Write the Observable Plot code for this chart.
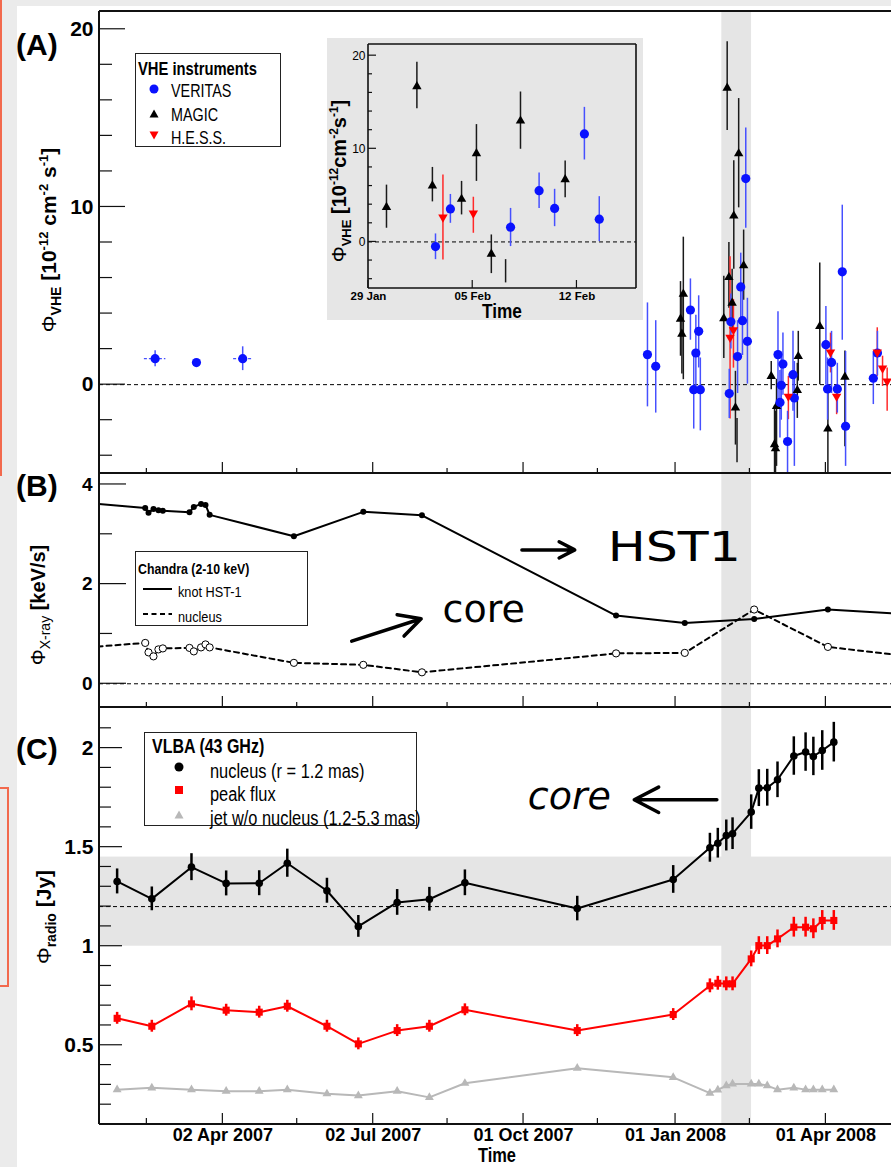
<!DOCTYPE html>
<html><head><meta charset="utf-8">
<script src="https://cdn.jsdelivr.net/npm/d3@7"></script>
<script src="https://cdn.jsdelivr.net/npm/@observablehq/plot@0.6"></script>
<style>
html,body{margin:0;padding:0;background:#ebebeb;overflow:hidden}
#page{position:relative;width:891px;height:1167px;overflow:hidden;font-family:"Liberation Sans",Arial,sans-serif;color:#000}
#sheet{position:absolute;left:17px;top:6px;width:874px;height:1161px;background:#fff}
.t{position:absolute;white-space:nowrap;line-height:1;transform:translateY(-50%)}
.t.narrow{transform:translateY(-50%) scaleX(0.82);transform-origin:0 50%}
.legend{position:absolute;border:1.5px solid #222;background:#fff;box-sizing:border-box;overflow:visible}
.ylab{position:absolute;white-space:nowrap;line-height:1;text-align:center;transform:translate(-50%,-50%) rotate(-90deg)}
.ylab sub,.ylab sup{line-height:0}
.red{position:absolute;border:2px solid #f2694d}
</style></head><body><div id="page"><div id="sheet"></div>
<div class="red" style="left:-3px;top:-4px;width:3px;height:476px;border-left:none"></div>
<div class="red" style="left:-5px;top:787px;width:10px;height:196px"></div>
</div>
<script>
// ------------------------------------------------------------------ DATA
const xDomain = ["2007-01-17T08:00", "2008-05-10T17:00"];
const flareWindow = [["2008-01-29", "2008-02-16"]];
const xMajorTicks = ["2007-04-02", "2007-07-02", "2007-10-01", "2008-01-01", "2008-04-01"];
const xTickLabels = ["02 Apr 2007", "02 Jul 2007", "01 Oct 2007", "01 Jan 2008", "01 Apr 2008"];
const xMinorTicks = ["2007-02-15", "2007-05-17", "2007-08-16", "2007-11-15", "2008-02-15"];

// Panel A: VHE flux [1e-12 cm^-2 s^-1]  (date, flux, lower, upper, x-error days)
const veritas = [
  ["2007-02-20", 1.46, 1.01, 1.91, 6.5],
  ["2007-03-17", 1.24, 1.10, 1.38],
  ["2007-04-14", 1.46, 0.79, 2.13, 5.5],
  ["2007-12-15", 1.69, -1.25, 4.6],
  ["2007-12-20", 1.03, -1.6, 3.6],
  ["2008-01-10", 4.2, 2.5, 5.95],
  ["2008-01-12", -0.28, -2.5, 1.87],
  ["2008-01-13T07:00", 1.78, -0.1, 3.9],
  ["2008-01-15", 3.0, 0.94, 5.0],
  ["2008-01-16", -0.28, -2.6, 1.5],
  ["2008-02-02T12:00", -0.5, -1.9, 0.86],
  ["2008-02-03T12:00", 3.54, 2.0, 5.1],
  ["2008-02-07T13:00", 1.58, -0.5, 3.6],
  ["2008-02-09T11:00", 5.5, 3.6, 7.4],
  ["2008-02-10T12:00", 3.6, 1.64, 5.65],
  ["2008-02-12T12:00", 11.6, 8.8, 14.45],
  ["2008-02-13T12:00", 2.44, 0.03, 4.86],
  ["2008-03-03", 1.69, -0.84, 4.1],
  ["2008-03-04T05:00", -1.0, -3.0, 0.8],
  ["2008-03-05", -0.04, -2.0, 1.6],
  ["2008-03-06", 1.16, -0.6, 2.9],
  ["2008-03-08T19:00", -3.2, -5.5, -1.5],
  ["2008-03-12T02:00", 0.56, -1.5, 3.0],
  ["2008-03-12T22:00", -0.75, -4.6, 1.3],
  ["2008-04-01", 2.25, 0.0, 4.4],
  ["2008-04-02", -0.24, -2.0, 1.5],
  ["2008-04-04T10:00", 1.25, -0.5, 3.0],
  ["2008-04-07T22:00", -0.24, -1.6, 1.2],
  ["2008-04-10T22:00", 6.35, 2.5, 10.1],
  ["2008-04-12T22:00", -2.34, -4.6, 1.87],
  ["2008-04-29T17:00", 0.36, -1.12, 1.87],
  ["2008-05-02T05:00", 1.78, 0.5, 3.0]
];
const magic = [
  ["2008-01-04T00:00", 3.7, 1.6, 5.8],
  ["2008-01-04T20:00", 2.85, 0.6, 5.1],
  ["2008-01-05T17:00", 5.1, 0.28, 8.3],
  ["2008-01-30T05:00", 3.72, 1.47, 6.1],
  ["2008-02-01T06:00", 16.7, 14.3, 19.3],
  ["2008-02-02T07:00", 6.04, 4.3, 8.0],
  ["2008-02-04T06:00", 4.6, 2.9, 6.5],
  ["2008-02-05T06:00", 9.5, 6.5, 12.6],
  ["2008-02-06T06:00", -1.3, -3.4, 0.75],
  ["2008-02-07T05:00", null, -4.4, -1.9],
  ["2008-02-08T05:00", 13.0, 9.95, 16.1],
  ["2008-02-11T05:00", 6.7, 4.75, 8.7],
  ["2008-02-27T22:00", 0.47, -0.28, 1.3],
  ["2008-02-29T22:00", -3.37, -6.0, -1.2],
  ["2008-03-01T12:00", -3.6, -6.0, -1.5],
  ["2008-03-02T03:00", -1.22, -4.6, 0.3],
  ["2008-03-14T17:00", -0.32, -1.9, 1.2],
  ["2008-03-15T07:00", 1.59, 0.2, 3.0],
  ["2008-03-28T07:00", 3.28, 0.0, 6.84],
  ["2008-04-02T05:00", -2.49, -6.0, -0.3],
  ["2008-04-12T12:00", 0.43, -3.5, 1.9]
];
const hess = [
  ["2008-02-03T00:00", 2.65, -1.93, 7.2],
  ["2008-02-05T01:00", 3.08, 0.93, 4.8],
  ["2008-03-09T07:00", -0.66, -1.97, 0.47],
  ["2008-04-03T19:00", 1.82, 0.66, 2.9],
  ["2008-04-07T12:00", -0.66, -1.69, 0.0],
  ["2008-05-02T02:00", 1.82, 0.47, 3.2],
  ["2008-05-05T07:00", 0.92, -0.1, 1.6],
  ["2008-05-08T02:00", 0.19, -1.5, 0.94]
];
const vheYMajor = [0, 10, 20];
const vheYMinor = [-4, -2, 2, 4, 6, 8, 12, 14, 16, 18];

// Inset
const insetDomain = ["2008-01-29", "2008-02-16"];
const insetTicks = ["2008-01-29", "2008-02-05", "2008-02-12"];
const insetTickLabels = ["29 Jan", "05 Feb", "12 Feb"];

// Panel B: Chandra 2-10 keV rate [keV/s]
const chandraDates = ["2006-12-20", "2007-02-14", "2007-02-16", "2007-02-19", "2007-02-22", "2007-02-24T16:00",
  "2007-03-12T19:00", "2007-03-15T10:00", "2007-03-19T19:00", "2007-03-22T12:00", "2007-03-25", "2007-05-15",
  "2007-06-26", "2007-07-31T12:00", "2007-11-26", "2008-01-06T14:00", "2008-02-17T14:00", "2008-04-02T05:00", "2008-06-01"];
const hst1Rate = [3.69, 3.53, 3.43, 3.51, 3.48, 3.47, 3.44, 3.55, 3.61, 3.59, 3.39, 2.96, 3.45, 3.38, 1.37, 1.22, 1.30, 1.49, 1.37];
const nucleusRate = [0.68, 0.82, 0.63, 0.55, 0.69, 0.71, 0.72, 0.65, 0.73, 0.79, 0.73, 0.42, 0.38, 0.23, 0.61, 0.62, 1.49, 0.74, 0.51];
const xrayYMajor = [0, 2, 4];
const xrayYMinor = [1, 3];

// Panel C: VLBA 43 GHz [Jy]
const vlbaDates = ["2007-01-28", "2007-02-18", "2007-03-14", "2007-04-04", "2007-04-24", "2007-05-11", "2007-06-04",
  "2007-06-23", "2007-07-16T12:00", "2007-08-05", "2007-08-26T12:00", "2007-11-02T12:00", "2007-12-30T14:00",
  "2008-01-21T19:00", "2008-01-26T14:00", "2008-01-31T17:00", "2008-02-04T12:00", "2008-02-15T19:00",
  "2008-02-20T10:00", "2008-02-25T12:00", "2008-03-02T17:00", "2008-03-12T14:00", "2008-03-19T17:00",
  "2008-03-24T10:00", "2008-03-29T19:00", "2008-04-05T19:00"];
const radioNucleus = [1.327, 1.239, 1.399, 1.317, 1.318, 1.419, 1.28, 1.10, 1.221, 1.237, 1.32, 1.19, 1.337,
  1.497, 1.52, 1.559, 1.568, 1.677, 1.798, 1.80, 1.84, 1.96, 1.98, 1.958, 1.988, 2.03];
const radioNucleusErr = [0.063, 0.06, 0.068, 0.063, 0.063, 0.071, 0.063, 0.055, 0.065, 0.06, 0.065, 0.062, 0.07,
  0.073, 0.075, 0.078, 0.08, 0.087, 0.093, 0.093, 0.09, 0.097, 0.097, 0.097, 0.1, 0.1];
const radioPeak = [0.636, 0.596, 0.709, 0.677, 0.667, 0.697, 0.596, 0.507, 0.574, 0.596, 0.679, 0.574, 0.655,
  0.80, 0.813, 0.81, 0.81, 0.936, 1.003, 1.003, 1.037, 1.096, 1.096, 1.088, 1.13, 1.13];
const radioPeakErr = [0.03, 0.03, 0.035, 0.03, 0.03, 0.03, 0.03, 0.03, 0.03, 0.03, 0.03, 0.03, 0.03,
  0.035, 0.035, 0.035, 0.035, 0.04, 0.045, 0.045, 0.045, 0.05, 0.05, 0.05, 0.05, 0.05];
const radioJet = [0.276, 0.285, 0.276, 0.268, 0.268, 0.276, 0.255, 0.246, 0.268, 0.237, 0.308, 0.384, 0.338,
  0.258, 0.275, 0.296, 0.305, 0.305, 0.305, 0.296, 0.276, 0.285, 0.276, 0.276, 0.276, 0.276];
const radioBand = [[1.0, 1.45]];
const radioRef = [1.2];
const radioYMajor = [0.5, 1, 1.5, 2];
const radioYMinor = [0.2, 0.3, 0.4, 0.6, 0.7, 0.8, 0.9, 1.1, 1.2, 1.3, 1.4, 1.6, 1.7, 1.8, 1.9, 2.1];

// Hand-drawn annotations (data coordinates)
const notesB = [["HST1", "2007-11-21", 2.72, 0], ["core", "2007-08-13", 1.48, 1]];
const arrowsB = [["2007-09-30", 2.687, "2007-11-01", 2.687], ["2007-06-19", 0.855, "2007-07-31", 1.305]];
const notesC = [["core", "2007-10-03T14:00", 1.756, 1]];
const arrowsC = [["2008-01-26", 1.739, "2007-12-07", 1.739]];

// ------------------------------------------------------------------ HELPERS
const T = s => new Date(s.length === 10 ? s + "T00:00Z" : s + "Z");
const pts = arr => arr.map(([d, v, lo, hi, xe]) => ({date: T(d), v, lo, hi, xe}));
const xDom = xDomain.map(T);
const band = flareWindow.map(([a, b]) => ({start: T(a), end: T(b)}));
const majT = xMajorTicks.map(T), minT = xMinorTicks.map(T);
const labelMap = new Map(majT.map((d, i) => [+d, xTickLabels[i]]));
const insT = insetTicks.map(T);
const insetLabelMap = new Map(insT.map((d, i) => [+d, insetTickLabels[i]]));
const V = pts(veritas), M = pts(magic), H = pts(hess);
const BLUE = "#0a12ff", BLUE_BAR = "#4650ff", RED = "#ff0000", BANDC = "#e5e5e5";
const FONT = "Liberation Sans, Arial, sans-serif";
const page = document.getElementById("page");

function axesFrame(cfg) {
  return (index, {x, y}, values, dim) => {
    const L = dim.marginLeft, R = dim.width - dim.marginRight, Tp = dim.marginTop, B = dim.height - dim.marginBottom;
    const g = d3.create("svg:g").attr("stroke", "#111").attr("fill", "none");
    const seg = (x1, y1, x2, y2, w) => g.append("line").attr("x1", x1).attr("y1", y1).attr("x2", x2).attr("y2", y2).attr("stroke-width", w);
    for (const v of cfg.yMajor) seg(L, y(v), L + cfg.yMajorLen, y(v), 1.2);
    for (const v of cfg.yMinor) seg(L, y(v), L + cfg.yMinorLen, y(v), 1.2);
    for (const d of cfg.xMajor) seg(x(d), B, x(d), B - cfg.xMajorLen, 1.2);
    for (const d of (cfg.xMinor || [])) seg(x(d), B, x(d), B - cfg.xMinorLen, 1.2);
    seg(L, Tp, L, B, cfg.fw);
    seg(L, Tp, R, Tp, cfg.fw);
    seg(L, B, R, B, cfg.fw);
    if (cfg.right) seg(R, Tp, R, B, cfg.fw);
    return g.node();
  };
}
function place(svg, left, top) {
  svg.style.position = "absolute";
  svg.style.left = left + "px";
  svg.style.top = top + "px";
  page.appendChild(svg);
}
function text(html, x, y, style, cls) {
  const d = document.createElement("div");
  d.className = "t " + (cls || "");
  d.setAttribute("style", `left:${x}px;top:${y}px;` + (style || ""));
  d.innerHTML = html;
  page.appendChild(d);
  return d;
}
function ylab(html, cx, cy, style) {
  const d = document.createElement("div");
  d.className = "ylab";
  d.setAttribute("style", `left:${cx}px;top:${cy}px;` + (style || ""));
  d.innerHTML = html;
  page.appendChild(d);
}
function vheMarks() {
  return [
    Plot.ruleY([0], {stroke: "#000", strokeWidth: 1, strokeDasharray: "4,3"}),
    Plot.ruleX(M, {x: "date", y1: "lo", y2: "hi", stroke: "#1a1a1a", strokeWidth: 1.5, clip: true}),
    Plot.ruleX(H, {x: "date", y1: "lo", y2: "hi", stroke: "#ff2a2a", strokeWidth: 1.5, clip: true}),
    Plot.ruleX(V, {x: "date", y1: "lo", y2: "hi", stroke: BLUE_BAR, strokeWidth: 1.5, clip: true}),
    Plot.ruleY(V.filter(d => d.xe), {y: "v", x1: d => d3.utcHour.offset(d.date, -24 * d.xe), x2: d => d3.utcHour.offset(d.date, 24 * d.xe), stroke: BLUE_BAR, strokeWidth: 1.3, strokeDasharray: "3,2", clip: true}),
    Plot.dot(M, {x: "date", y: "v", symbol: "triangle", r: 3.5, fill: "#000", stroke: "none", clip: true}),
    Plot.dot(V, {x: "date", y: "v", symbol: "circle", r: 4.6, fill: BLUE, stroke: "none", clip: true}),
    Plot.dot(H, {x: "date", y: "v", symbol: "triangle", rotate: 180, r: 3.5, fill: RED, stroke: "none", clip: true})
  ];
}
const baseStyle = {fontFamily: FONT, background: "transparent", overflow: "visible", color: "#000"};

// ------------------------------------------------------------------ PANEL A
const plotA = Plot.plot({
  width: 891, height: 473, marginLeft: 99, marginRight: 0, marginTop: 11, marginBottom: 0,
  style: baseStyle,
  x: {type: "utc", domain: xDom, axis: null},
  y: {domain: [-5, 21]},
  marks: [
    Plot.rect(band, {x1: "start", x2: "end", fill: BANDC}),
    ...vheMarks(),
    Plot.axisY(vheYMajor, {tickSize: 0, tickPadding: 6, fontSize: 21, fontWeight: "bold", label: null, tickFormat: d => String(d)}),
    axesFrame({yMajor: vheYMajor, yMinor: vheYMinor, yMajorLen: 26, yMinorLen: 13, xMajor: majT, xMinor: minT, xMajorLen: 11, xMinorLen: 5, fw: 2})
  ]
});
place(plotA, 0, 0);

// ------------------------------------------------------------------ INSET
const insetEl = Plot.plot({
  width: 316, height: 282, marginLeft: 41, marginRight: 7, marginTop: 6, marginBottom: 32,
  style: {...baseStyle, background: "#e6e6e6"},
  x: {type: "utc", domain: insetDomain.map(T)},
  y: {domain: [-5, 21.2]},
  marks: [
    ...vheMarks(),
    Plot.axisY(vheYMajor, {tickSize: 0, tickPadding: 3, fontSize: 12, label: null, tickFormat: d => String(d)}),
    Plot.axisX(insT, {tickSize: 0, tickPadding: 3, fontSize: 11.5, fontWeight: "bold", label: null, tickFormat: d => insetLabelMap.get(+d)}),
    axesFrame({yMajor: vheYMajor, yMinor: vheYMinor, yMajorLen: 8, yMinorLen: 4, xMajor: insT, xMajorLen: 8, fw: 1.6, right: true})
  ]
});
place(insetEl, 327, 38);

// ------------------------------------------------------------------ PANEL B
const cD = chandraDates.map(T);
const hstPts = cD.map((d, i) => ({date: d, v: hst1Rate[i]}));
const nucPts = cD.map((d, i) => ({date: d, v: nucleusRate[i]}));
const plotB = Plot.plot({
  width: 891, height: 234, marginLeft: 99, marginRight: 0, marginTop: 0, marginBottom: 0,
  style: baseStyle,
  x: {type: "utc", domain: xDom, axis: null},
  y: {domain: [-0.476, 4.22]},
  marks: [
    Plot.rect(band, {x1: "start", x2: "end", fill: BANDC}),
    Plot.ruleY([0], {stroke: "#000", strokeWidth: 1, strokeDasharray: "4,3"}),
    Plot.line(hstPts, {x: "date", y: "v", stroke: "#000", strokeWidth: 2, clip: true}),
    Plot.line(nucPts, {x: "date", y: "v", stroke: "#000", strokeWidth: 2, strokeDasharray: "5,4", clip: true}),
    Plot.dot(hstPts, {x: "date", y: "v", r: 3, fill: "#000", stroke: "none", clip: true}),
    Plot.dot(nucPts, {x: "date", y: "v", r: 3.6, fill: "#fff", stroke: "#000", strokeWidth: 1, clip: true}),
    Plot.arrow(arrowsB, {x1: d => T(d[0]), y1: d => d[1], x2: d => T(d[2]), y2: d => d[3], stroke: "#000", strokeWidth: 3.5, headLength: 16, headAngle: 55}),
    Plot.text(notesB, {x: d => T(d[1]), y: d => d[2], text: d => d[0], textAnchor: "start", lineAnchor: "middle",
      fontSize: d => d[3] ? 38 : 40, fontStyle: d => d[3] ? "italic" : "normal", fontFamily: "DejaVu Sans, sans-serif", fill: "#000"}),
    Plot.axisY(xrayYMajor, {tickSize: 0, tickPadding: 7, fontSize: 19, fontWeight: "bold", label: null, tickFormat: d => String(d)}),
    axesFrame({yMajor: xrayYMajor, yMinor: xrayYMinor, yMajorLen: 27, yMinorLen: 13, xMajor: majT, xMinor: minT, xMajorLen: 11, xMinorLen: 5, fw: 2})
  ]
});
d3.select(plotB).selectAll("text").filter(function () { return this.textContent === "HST1"; })
  .attr("textLength", 133).attr("lengthAdjust", "spacingAndGlyphs");
place(plotB, 0, 473);

// ------------------------------------------------------------------ PANEL C
const vD = vlbaDates.map(T);
const nucR = vD.map((d, i) => ({date: d, v: radioNucleus[i], e: radioNucleusErr[i]}));
const peakR = vD.map((d, i) => ({date: d, v: radioPeak[i], e: radioPeakErr[i]}));
const jetR = vD.map((d, i) => ({date: d, v: radioJet[i]}));
const plotC = Plot.plot({
  width: 891, height: 460, marginLeft: 99, marginRight: 0, marginTop: 0, marginBottom: 43,
  style: baseStyle,
  x: {type: "utc", domain: xDom},
  y: {domain: [0.1, 2.205]},
  marks: [
    Plot.rect(band, {x1: "start", x2: "end", fill: BANDC}),
    Plot.rect(radioBand, {y1: d => d[0], y2: d => d[1], fill: BANDC}),
    Plot.ruleY(radioRef, {stroke: "#000", strokeWidth: 1, strokeDasharray: "4,3"}),
    Plot.line(jetR, {x: "date", y: "v", stroke: "#b8b8b8", strokeWidth: 2}),
    Plot.dot(jetR, {x: "date", y: "v", symbol: "triangle", r: 3.3, fill: "#b8b8b8", stroke: "none"}),
    Plot.line(peakR, {x: "date", y: "v", stroke: RED, strokeWidth: 2}),
    Plot.ruleX(peakR, {x: "date", y1: d => d.v - d.e, y2: d => d.v + d.e, stroke: RED, strokeWidth: 2.5}),
    Plot.dot(peakR, {x: "date", y: "v", symbol: "square", r: 4, fill: RED, stroke: "none"}),
    Plot.line(nucR, {x: "date", y: "v", stroke: "#000", strokeWidth: 2}),
    Plot.ruleX(nucR, {x: "date", y1: d => d.v - d.e, y2: d => d.v + d.e, stroke: "#000", strokeWidth: 2.5}),
    Plot.dot(nucR, {x: "date", y: "v", r: 3.8, fill: "#000", stroke: "none"}),
    Plot.arrow(arrowsC, {x1: d => T(d[0]), y1: d => d[1], x2: d => T(d[2]), y2: d => d[3], stroke: "#000", strokeWidth: 3.5, headLength: 16, headAngle: 55}),
    Plot.text(notesC, {x: d => T(d[1]), y: d => d[2], text: d => d[0], textAnchor: "start", lineAnchor: "middle",
      fontSize: 38, fontStyle: "italic", fontFamily: "DejaVu Sans, sans-serif", fill: "#000"}),
    Plot.axisY(radioYMajor, {tickSize: 0, tickPadding: 6, fontSize: 21, fontWeight: "bold", label: null, tickFormat: d => String(d)}),
    Plot.axisX(majT, {tickSize: 0, tickPadding: 4, fontSize: 18, fontWeight: "bold", label: null, tickFormat: d => labelMap.get(+d)}),
    axesFrame({yMajor: radioYMajor, yMinor: radioYMinor, yMajorLen: 23, yMinorLen: 12, xMajor: majT, xMinor: minT, xMajorLen: 11, xMinorLen: 6, fw: 2})
  ]
});
place(plotC, 0, 707);

// ------------------------------------------------------------------ TEXT, LEGENDS
text("(A)", 16, 45, "font-size:30px;font-weight:bold");
text("(B)", 16, 486, "font-size:30px;font-weight:bold");
text("(C)", 16, 749, "font-size:30px;font-weight:bold");
ylab('Φ<sub style="font-size:14px;font-weight:bold">VHE</sub> <b>[10<sup style="font-size:13px">-12</sup> cm<sup style="font-size:13px">-2</sup> s<sup style="font-size:13px">-1</sup>]</b>', 48, 240, "font-size:21px");
ylab('Φ<sub style="font-size:14px">X-ray</sub> <b>[keV/s]</b>', 38, 605, "font-size:20px");
ylab('Φ<sub style="font-size:14px;font-weight:bold">radio</sub> <b>[Jy]</b>', 43, 917, "font-size:21px");
ylab('Φ<sub style="font-size:13px;font-weight:bold">VHE</sub> <b>[10<sup style="font-size:12px">-12</sup>cm<sup style="font-size:12px">-2</sup>s<sup style="font-size:12px">-1</sup>]</b>', 339, 181, "font-size:20px");
text("Time", 502 - 20, 310, "font-size:21px;font-weight:bold", "narrow");
text("Time", 498 - 20, 1155, "font-size:20px;font-weight:bold", "narrow");

function legend(x, y, w, h) {
  const d = document.createElement("div");
  d.className = "legend";
  d.setAttribute("style", `left:${x}px;top:${y}px;width:${w}px;height:${h}px`);
  page.appendChild(d);
}
function sym(svgInner, x, y, w, h) {
  const s = d3.create("svg").attr("width", w).attr("height", h)
    .style("position", "absolute").style("left", (x - w / 2) + "px").style("top", (y - h / 2) + "px").style("overflow", "visible");
  s.html(svgInner);
  page.appendChild(s.node());
}
// legend A
legend(135, 53, 146, 94);
text("VHE instruments", 138, 68.5, "font-size:18px;font-weight:bold", "narrow");
sym('<circle cx="5" cy="5" r="4.5" fill="' + BLUE + '"/>', 154, 89, 10, 10);
text("VERITAS", 171, 92, "font-size:17.5px", "narrow");
sym('<path d="M5,0.5 L9.5,8.5 L0.5,8.5Z" fill="#000"/>', 153.5, 113.5, 10, 9);
text("MAGIC", 171, 116, "font-size:17.5px", "narrow");
sym('<path d="M0.5,0.5 L9.5,0.5 L5,8.5Z" fill="' + RED + '"/>', 153.5, 135, 10, 9);
text("H.E.S.S.", 171, 139, "font-size:17.5px", "narrow");
// legend B
legend(135, 551, 173, 75);
text("Chandra (2-10 keV)", 138, 568, "font-size:15px;font-weight:bold", "narrow");
sym('<line x1="0" y1="1" x2="29" y2="1" stroke="#000" stroke-width="2"/>', 157, 588.5, 29, 2);
text("knot HST-1", 178, 591.5, "font-size:15.5px", "narrow");
sym('<line x1="0" y1="1" x2="29" y2="1" stroke="#000" stroke-width="2" stroke-dasharray="5,3.5"/>', 157, 614, 29, 2);
text("nucleus", 178, 616.5, "font-size:15.5px", "narrow");
// legend C
legend(144, 732, 273, 94);
text("VLBA (43 GHz)", 152, 746.5, "font-size:19.5px;font-weight:bold", "narrow");
sym('<circle cx="5" cy="5" r="4.5" fill="#000"/>', 178.5, 767, 10, 10);
text("nucleus (r = 1.2 mas)", 210, 770.5, "font-size:20px", "narrow");
sym('<rect x="1" y="1" width="8" height="8" fill="' + RED + '"/>', 178.5, 790, 10, 10);
text("peak flux", 210, 793.5, "font-size:20px", "narrow");
sym('<path d="M5,0.5 L9.5,8.5 L0.5,8.5Z" fill="#b8b8b8"/>', 178.5, 814, 10, 9);
text("jet w/o nucleus (1.2-5.3 mas)", 210, 817.5, "font-size:20px", "narrow");
</script></body></html>
